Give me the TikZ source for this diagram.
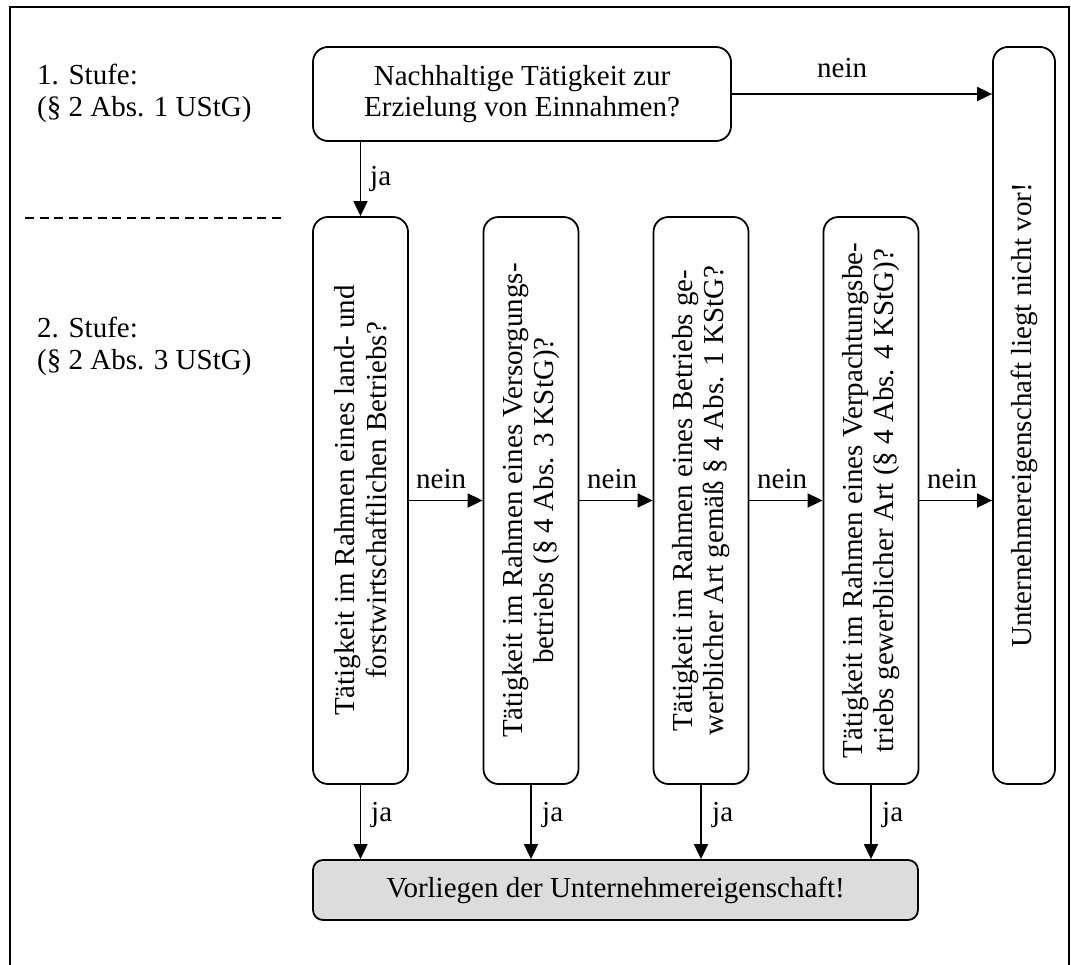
\documentclass[tikz,border=0pt]{standalone}
\usepackage{fontspec}
\setmainfont{Liberation Serif}
\usetikzlibrary{arrows.meta}
\begin{document}
\begin{tikzpicture}[x=1pt,y=-1pt,
  every node/.style={font=\fontsize{29}{31.5}\selectfont},
  box/.style={draw, line width=1.8pt, rounded corners=15pt, inner sep=0pt},
  vbox/.style={box, minimum width=95pt, minimum height=567pt},
  flow/.style={line width=1.8pt, -{Triangle[length=15pt,width=14pt]}},
  lbl/.style={inner sep=0pt, anchor=base west},
]
\useasboundingbox (0,0) rectangle (1071,964);
% outer frame (open at the bottom edge of the page)
\draw[line width=2pt] (10,1000) -- (10,7) -- (1069,7) -- (1069,1000);

% stage labels and separator
\node[lbl, align=left] (s1) at (37,116) {1. Stufe:\\(§ 2 Abs. 1 UStG)};
\node[lbl, align=left] (s2) at (37,369) {2. Stufe:\\(§ 2 Abs. 3 UStG)};
\draw[line width=1.5pt, dash pattern=on 9pt off 5.5pt] (25,218) -- (285,218);

% question of stage 1
\node[box, minimum width=418pt, minimum height=94pt, align=center] (q1) at (522,94)
  {Nachhaltige Tätigkeit zur\\Erzielung von Einnahmen?};

% questions of stage 2
\node[vbox, label={[rotate=90,align=center]center:{Tätigkeit im Rahmen eines land- und\\forstwirtschaftlichen Betriebs?}}] (b1) at (360.5,500.5) {};
\node[vbox, label={[rotate=90,align=center]center:{Tätigkeit im Rahmen eines Versorgungs-\\betriebs (§ 4 Abs. 3 KStG)?}}] (b2) at (531,500.5) {};
\node[vbox, label={[rotate=90,align=center]center:{Tätigkeit im Rahmen eines Betriebs ge-\\werblicher Art gemäß § 4 Abs. 1 KStG?}}] (b3) at (701,500.5) {};
\node[vbox, label={[rotate=90,align=center]center:{Tätigkeit im Rahmen eines Verpachtungsbe-\\triebs gewerblicher Art (§ 4 Abs. 4 KStG)?}}] (b4) at (871,500.5) {};

% outcomes
\node[box, minimum width=62pt, minimum height=737pt,
  label={[rotate=90]center:{Unternehmereigenschaft liegt nicht vor!}}] (no) at (1024,415.5) {};
\node[box, rounded corners=10pt, fill={rgb,255:red,220;green,220;blue,220},
  minimum width=605pt, minimum height=60pt] (yes) at (615.5,890)
  {Vorliegen der Unternehmereigenschaft!};

% connectors
\draw[flow] (q1.east) -- (q1.east -| no.west);
\node[lbl] (n0) at (817,77) {nein};
\draw[flow] (b1.north |- q1.south) -- (b1.north);
\node[lbl] (j0) at (370,185) {ja};

\draw[flow] (b1.east) -- (b2.west);
\draw[flow] (b2.east) -- (b3.west);
\draw[flow] (b3.east) -- (b4.west);
\draw[flow] (b4.east) -- (b4.east -| no.west);
\node[lbl] (n1) at (416,488) {nein};
\node[lbl] (n2) at (587,488) {nein};
\node[lbl] (n3) at (757,488) {nein};
\node[lbl] (n4) at (927,488) {nein};

\draw[flow] (b1.south) -- (b1.south |- yes.north);
\draw[flow] (b2.south) -- (b2.south |- yes.north);
\draw[flow] (b3.south) -- (b3.south |- yes.north);
\draw[flow] (b4.south) -- (b4.south |- yes.north);
\node[lbl] (j1) at (371,821) {ja};
\node[lbl] (j2) at (542,821) {ja};
\node[lbl] (j3) at (712,821) {ja};
\node[lbl] (j4) at (882,821) {ja};
\end{tikzpicture}
\end{document}
